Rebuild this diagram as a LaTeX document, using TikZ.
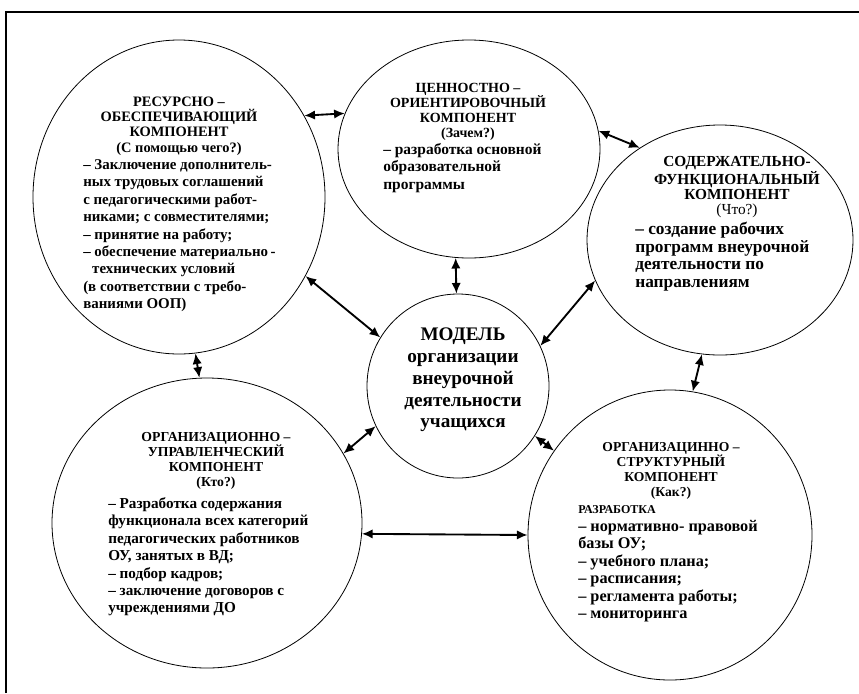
\documentclass[tikz,border=0pt]{standalone}
\usepackage{fontspec}
\setmainfont{Liberation Serif}
\usetikzlibrary{arrows.meta,shapes.geometric}
\begin{document}
\begin{tikzpicture}[x=0.75pt,y=-0.75pt,
  comp/.style={ellipse, draw, line width=0.6pt, inner sep=0pt},
  con/.style={{Latex[length=8pt,width=7pt]}-{Latex[length=8pt,width=7pt]}, line width=1.4pt},
  head/.style={align=center, inner sep=0pt, font=\bfseries\fontsize{#1}{11.3pt}\selectfont},
  body/.style={align=left, inner sep=0pt, font=\bfseries\fontsize{#1}{13.1pt}\selectfont},
  central/.style={align=center, inner sep=0pt, font=\bfseries\fontsize{14.4pt}{16.3pt}\selectfont},
  small/.style={inner sep=0pt, font=\bfseries\fontsize{9pt}{10pt}\selectfont}
]
\useasboundingbox (0,0) rectangle (859,693);
\draw[line width=1.2pt] (6,693) -- (6,12) -- (859,12);

% components
\node[comp, minimum width=219pt, minimum height=235.5pt] (res) at (179,197) {};
\node[comp, minimum width=196.5pt, minimum height=163.5pt] (cen) at (469,149) {};
\node[comp, minimum width=199.5pt, minimum height=172.5pt] (sod) at (720,240) {};
\node[comp, minimum width=136.5pt, minimum height=138pt] (mod) at (458,386) {};
\node[comp, minimum width=232.5pt, minimum height=217.5pt] (upr) at (207,523) {};
\node[comp, minimum width=213pt, minimum height=217.5pt] (str) at (670,535) {};

% connectors
\draw[con] (res.33.4) -- (cen.164);
\draw[con] (cen.8.7) -- (sod.131);
\draw[con] (cen.263.7) -- (mod.91);
\draw[con] (res.328) -- (mod.148.5);
\draw[con] (sod.198) -- (mod.26.3);
\draw[con] (res.276) -- (upr.93.7);
\draw[con] (mod.206.8) -- (upr.27);
\draw[con] (sod.261) -- (str.81.4);
\draw[con] (mod.327.3) -- (str.144);
\draw[con] (upr.-4) -- (str.180);

% texts
\node[head=10.8pt, anchor=north] (resH) at (179,97) {РЕСУРСНО –\\ОБЕСПЕЧИВАЮЩИЙ\\КОМПОНЕНТ\\(С помощью чего?)};
\node[body=11.2pt, anchor=north west] (resB) at (83,159) {– Заключение дополнитель-\\ных трудовых соглашений\\с педагогическими работ-\\никами; с совместителями;\\– принятие на работу;\\– обеспечение материально\,-\\\hspace*{0.6em}технических условий\\(в соответствии с требо-\\ваниями ООП)};

\node[head=10.5pt, anchor=north] (cenH) at (468,83) {ЦЕННОСТНО –\\ОРИЕНТИРОВОЧНЫЙ\\КОМПОНЕНТ\\(Зачем?)};
\node[body=11.6pt, anchor=north west] (cenB) at (383,143) {– разработка основной\\образовательной\\программы};

\node[head=11.5pt, anchor=north] (sodH) at (737,156) {СОДЕРЖАТЕЛЬНО-\\ФУНКЦИОНАЛЬНЫЙ\\КОМПОНЕНТ\\{\mdseries(Что?)}};
\node[body=13pt, anchor=north west] (sodB) at (635,222) {– создание рабочих\\программ внеурочной\\деятельности по\\направлениям};

\node[central, anchor=north] (modT) at (463,328) {МОДЕЛЬ\\организации\\внеурочной\\деятельности\\учащихся};

\node[head=10.3pt, anchor=north] (uprH) at (216,432) {ОРГАНИЗАЦИОННО –\\УПРАВЛЕНЧЕСКИЙ\\КОМПОНЕНТ\\(Кто?)};
\node[body=11.4pt, anchor=north west] (uprB) at (108,497) {– Разработка содержания\\функционала всех категорий\\педагогических работников\\ОУ, занятых в ВД;\\– подбор кадров;\\– заключение договоров с\\учреждениями ДО};

\node[head=10.2pt, anchor=north] (strH) at (671,442) {ОРГАНИЗАЦИННО –\\СТРУКТУРНЫЙ\\КОМПОНЕНТ\\(Как?)};
\node[small, anchor=north west] (strL) at (578,505) {РАЗРАБОТКА};
\node[body=12.2pt, anchor=north west] (strB) at (578,520) {– нормативно- правовой\\базы ОУ;\\– учебного плана;\\– расписания;\\– регламента работы;\\– мониторинга};
\end{tikzpicture}
\end{document}
